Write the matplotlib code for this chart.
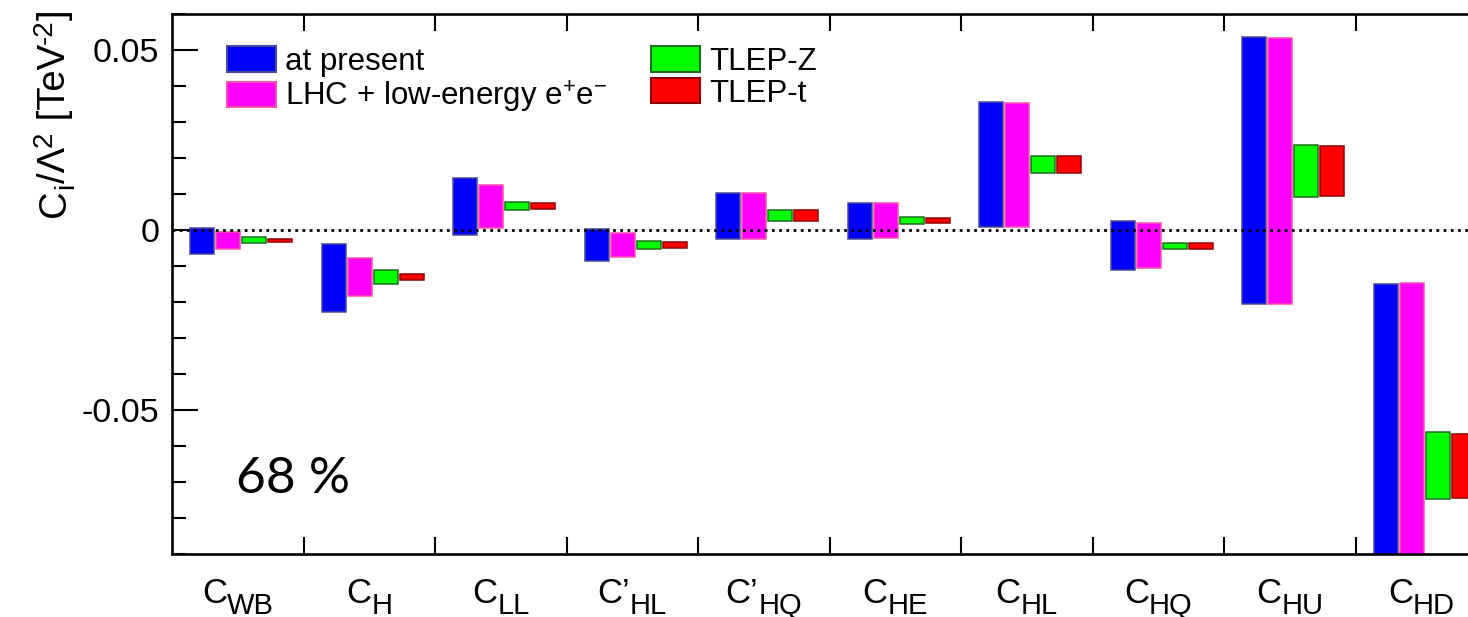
import matplotlib
matplotlib.use("Agg")
import matplotlib.pyplot as plt
from matplotlib.patches import Patch
from matplotlib.ticker import FixedLocator, MultipleLocator, FixedFormatter
import numpy as np

plt.rcParams['font.family'] = ['Liberation Sans', 'DejaVu Sans']
plt.rcParams['mathtext.fontset'] = 'custom'
plt.rcParams['mathtext.rm'] = 'Liberation Sans'
plt.rcParams['mathtext.it'] = 'Liberation Sans'
plt.rcParams['axes.unicode_minus'] = False

# Coefficients (label main part, subscript)
coef_main = ['C', 'C', 'C', 'C\u2019', 'C\u2019', 'C', 'C', 'C', 'C', 'C']
coef_sub = ['WB', 'H', 'LL', 'HL', 'HQ', 'HE', 'HL', 'HQ', 'HU', 'HD']

series_names = ['at present', r'LHC + low-energy $\mathregular{e^{+}e^{-}}$', 'TLEP-Z', 'TLEP-t']

# 68% intervals [low, high] in TeV^-2
present_low = [-0.0066, -0.0227, -0.0014, -0.0087, -0.0025, -0.0024, 0.0007, -0.0111, -0.0206, -0.1200]
present_high = [0.0006, -0.0039, 0.0145, 0.0002, 0.0103, 0.0075, 0.0355, 0.0024, 0.0535, -0.0151]
lhc_low = [-0.0052, -0.0184, 0.0005, -0.0076, -0.0024, -0.0022, 0.0007, -0.0107, -0.0206, -0.1200]
lhc_high = [-0.0006, -0.0079, 0.0125, -0.0008, 0.0103, 0.0074, 0.0353, 0.0019, 0.0532, -0.0149]
tlepz_low = [-0.0036, -0.0151, 0.0056, -0.0052, 0.0025, 0.0016, 0.0157, -0.0052, 0.0091, -0.0749]
tlepz_high = [-0.0021, -0.0112, 0.0077, -0.0032, 0.0055, 0.0035, 0.0205, -0.0037, 0.0237, -0.0563]
tlept_low = [-0.0034, -0.0140, 0.0057, -0.0050, 0.0025, 0.0018, 0.0157, -0.0052, 0.0093, -0.0744]
tlept_high = [-0.0024, -0.0123, 0.0074, -0.0034, 0.0055, 0.0033, 0.0205, -0.0037, 0.0234, -0.0568]

lows = [present_low, lhc_low, tlepz_low, tlept_low]
highs = [present_high, lhc_high, tlepz_high, tlept_high]
face_colors = ['#0000ff', '#ff00ff', '#00ff00', '#ff0000']
edge_colors = ['#4a4a9a', '#ff4fa8', '#1f6e1f', '#8f0000']

W, H = 1468, 617
fig = plt.figure(figsize=(W / 100, H / 100), dpi=100)
ax_left, ax_right = 172, 1487
ax_top, ax_bottom = 14, 553.7
ax = fig.add_axes([ax_left / W, (H - ax_bottom) / H,
                   (ax_right - ax_left) / W, (ax_bottom - ax_top) / H])

n = len(coef_sub)
x = np.arange(n)
bar_w = 0.183
for k in range(4):
    lo = np.array(lows[k])
    hi = np.array(highs[k])
    ax.bar(x + 0.229 + 0.198 * k, hi - lo, bottom=lo, width=bar_w,
           color=face_colors[k], edgecolor=edge_colors[k], linewidth=1.1,
           zorder=2)

ax.axhline(0, color='black', linestyle=(0, (1, 1.6)), linewidth=2.0, zorder=3)

ax.set_xlim(0, n)
ax.set_ylim(-0.09, 0.06)

# y axis ticks
ax.yaxis.set_major_locator(FixedLocator([-0.05, 0.0, 0.05]))
ax.yaxis.set_major_formatter(FixedFormatter(['-0.05', '0', '0.05']))
ax.yaxis.set_minor_locator(MultipleLocator(0.01))
ax.tick_params(axis='y', which='major', direction='in', length=19, width=1.5,
               labelsize=24.5, pad=9, right=False)
ax.tick_params(axis='y', which='minor', direction='in', length=10, width=1.5,
               right=False)

# x axis: ticks at category boundaries, no labels from the axis itself
ax.xaxis.set_major_locator(FixedLocator(np.arange(1, n)))
ax.xaxis.set_minor_locator(FixedLocator([]))
ax.tick_params(axis='x', which='major', direction='in', length=12, width=1.5,
               top=True, bottom=True, labelbottom=False)

for s in ['left', 'bottom', 'top', 'right']:
    ax.spines[s].set_linewidth(1.9)

# legend
handles = [Patch(facecolor=fc, edgecolor=ec, linewidth=1.5)
           for fc, ec in zip(face_colors, edge_colors)]
leg = ax.legend(handles, series_names,
                ncol=2, loc='upper left', bbox_to_anchor=(0.0416, 0.940),
                frameon=False, fontsize=22.5, handlelength=1.57, handleheight=0.86,
                handletextpad=0.3, columnspacing=1.39, labelspacing=0.05,
                borderpad=0, borderaxespad=0)

ax.text(0.049, 0.1125, '68 %', transform=ax.transAxes, fontsize=37,
        family=['Lato', 'DejaVu Sans'], ha='left', va='baseline')

fig.canvas.draw()
renderer = fig.canvas.get_renderer()


def run_of_text(pieces, start, vertical=False):
    """Lay out (string, size, shift_px) pieces one after another from a
    baseline start point in display pixels; returns the total advance."""
    pos = 0.0
    for s, size, shift in pieces:
        t = fig.text(0, 0, s, fontsize=size, transform=None,
                     ha='left', va='baseline',
                     rotation=90 if vertical else 0, rotation_mode='anchor')
        bb = t.get_window_extent(renderer)
        adv = bb.height if vertical else bb.width
        if vertical:
            t.set_position((start[0] - shift, start[1] + pos))
        else:
            t.set_position((start[0] + pos, start[1] + shift))
        pos += adv
    return pos


def measure(pieces, vertical=False):
    total = 0.0
    for s, size, _ in pieces:
        t = fig.text(0, 0, s, fontsize=size, transform=None,
                     rotation=90 if vertical else 0)
        bb = t.get_window_extent(renderer)
        total += bb.height if vertical else bb.width
        t.remove()
    return total


# category labels: C with subscript, centred under each category
base_y = H - 602.7
for i in range(n):
    pieces = [(coef_main[i], 25, 0), (coef_sub[i], 21, -11)]
    cx = ax.transData.transform((i + 0.5, 0))[0]
    w = measure(pieces)
    run_of_text(pieces, (cx - w / 2, base_y))

# y-axis title, written bottom-to-top and ending at the top of the frame
ylabel_pieces = [('C', 27.5, 0), ('i', 20, -8), ('/\u039b', 27.5, 0), ('2', 20, 13),
                 (' [TeV', 27.5, 0), ('-2', 20, 13), (']', 27.5, 0)]
L = measure(ylabel_pieces, vertical=True)
run_of_text(ylabel_pieces, (65, (H - 9) - L), vertical=True)

fig.savefig('out.png', dpi=100)
